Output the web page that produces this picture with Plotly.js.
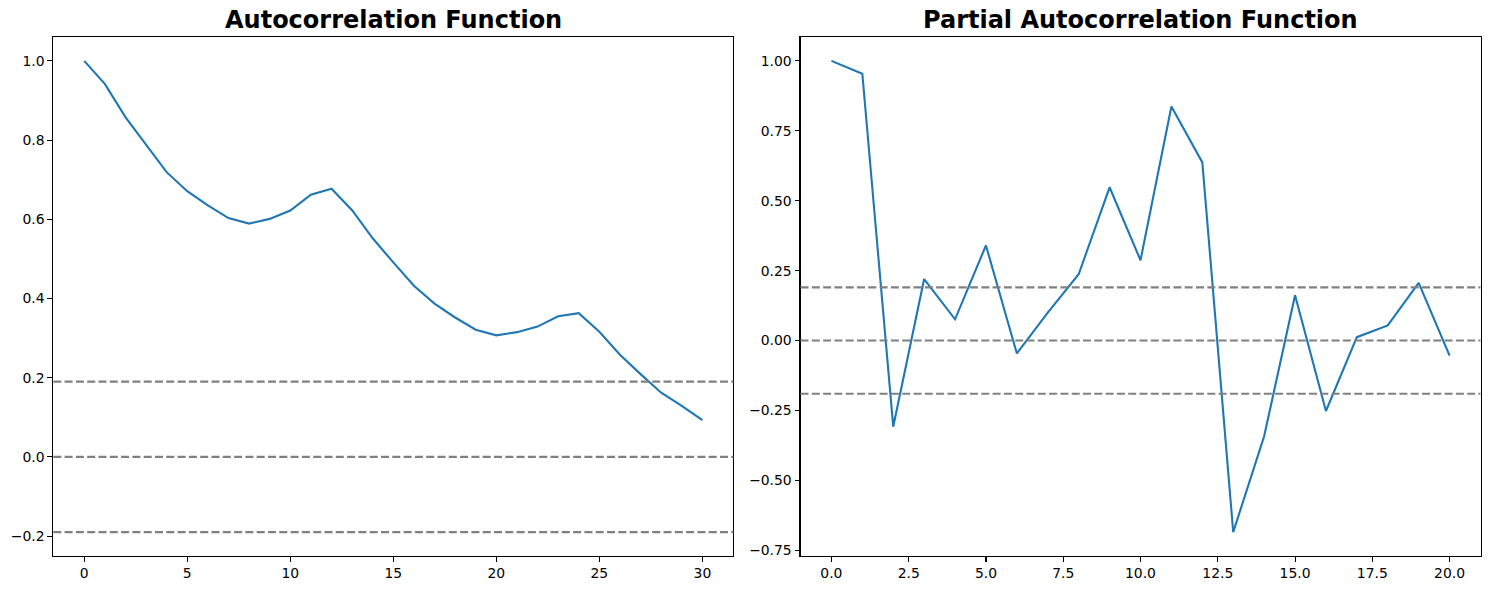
<!DOCTYPE html>
<html>
<head>
<meta charset="utf-8">
<script src="https://cdn.plot.ly/plotly-3.0.1.min.js"></script>
<style>html,body{margin:0;padding:0;background:#fff;}#chart{width:1490px;height:590px;}</style>
</head>
<body>
<div id="chart"></div>
<script>
// ---- data ----
const acfLags = [0,1,2,3,4,5,6,7,8,9,10,11,12,13,14,15,16,17,18,19,20,21,22,23,24,25,26,27,28,29,30];
const acfValues = [1.0,0.942,0.858,0.787,0.719,0.671,0.635,0.603,0.589,0.601,0.622,0.662,0.677,0.623,0.552,0.491,0.432,0.387,0.352,0.321,0.307,0.315,0.329,0.355,0.363,0.316,0.258,0.209,0.162,0.129,0.093];
const pacfLags = [0,1,2,3,4,5,6,7,8,9,10,11,12,13,14,15,16,17,18,19,20];
const pacfValues = [1.0,0.954,-0.308,0.220,0.076,0.340,-0.046,0.100,0.237,0.548,0.287,0.837,0.637,-0.685,-0.342,0.162,-0.252,0.012,0.054,0.206,-0.054];
const confBound = 0.19;
const refLevels = [confBound, 0, -confBound];
const titles = ["Autocorrelation Function", "Partial Autocorrelation Function"];
const acfXTicks = [0,5,10,15,20,25,30];
const acfYTicks = [-0.2,0.0,0.2,0.4,0.6,0.8,1.0];
const pacfXTicks = [0,2.5,5,7.5,10,12.5,15,17.5,20];
const pacfYTicks = [-0.75,-0.5,-0.25,0,0.25,0.5,0.75,1.0];

// ---- styling ----
const W = 1490, H = 590;
const blue = '#1f77b4';
const tickFont = {family: 'DejaVu Sans', size: 13.9, color: '#000'};
const dom1 = [53.3/W, 733.3/W], dom2 = [800.5/W, 1480.5/W];
const ydom = [1 - 555.7/H, 1 - 37.3/H];

function axisCommon(extra) {
  return Object.assign({
    showgrid: false, zeroline: false, showline: true, linecolor: '#000', linewidth: 1.1,
    mirror: true, ticks: 'outside', ticklen: 4.9, tickwidth: 1.1, tickcolor: '#000',
    tickfont: tickFont, automargin: false
  }, extra);
}

const traces = [
  {x: acfLags, y: acfValues, type: 'scatter', mode: 'lines', line: {color: blue, width: 2.1}, xaxis: 'x', yaxis: 'y', hoverinfo: 'skip'},
  {x: pacfLags, y: pacfValues, type: 'scatter', mode: 'lines', line: {color: blue, width: 2.1}, xaxis: 'x2', yaxis: 'y2', hoverinfo: 'skip'}
];

const shapes = [];
[['x','y'],['x2','y2']].forEach(([xa, ya]) => {
  refLevels.forEach(v => {
    shapes.push({type: 'line', xref: xa + ' domain', yref: ya, x0: 0, x1: 1, y0: v, y1: v,
      line: {color: '#808080', width: 2.1, dash: '8px,3.3px'}, layer: 'above'});
  });
});

function pad(lo, hi) { const s = (hi - lo) * 0.05; return [lo - s, hi + s]; }
const acfYMin = Math.min(...acfValues, -confBound), acfYMax = Math.max(...acfValues, confBound);
const pacfYMin = Math.min(...pacfValues, -confBound), pacfYMax = Math.max(...pacfValues, confBound);

const titleFont = {family: 'DejaVu Sans', size: 24, color: '#000'};
const layout = {
  width: W, height: H, margin: {l: 0, r: 0, t: 0, b: 0},
  paper_bgcolor: '#fff', plot_bgcolor: '#fff', showlegend: false,
  xaxis: axisCommon({domain: dom1, anchor: 'y', range: pad(acfLags[0], acfLags[acfLags.length-1]), tickvals: acfXTicks, tickformat: 'd'}),
  yaxis: axisCommon({domain: ydom, anchor: 'x', range: pad(acfYMin, acfYMax), tickvals: acfYTicks, tickformat: '.1f'}),
  xaxis2: axisCommon({domain: dom2, anchor: 'y2', range: pad(pacfLags[0], pacfLags[pacfLags.length-1]), tickvals: pacfXTicks, tickformat: '.1f'}),
  yaxis2: axisCommon({domain: ydom, anchor: 'x2', range: pad(pacfYMin, pacfYMax), tickvals: pacfYTicks, tickformat: '.2f'}),
  shapes: shapes,
  annotations: [
    {text: '<b>' + titles[0] + '</b>', xref: 'paper', yref: 'paper', x: (dom1[0]+dom1[1])/2, y: 1 - 20.5/H, xanchor: 'center', yanchor: 'middle', showarrow: false, font: titleFont},
    {text: '<b>' + titles[1] + '</b>', xref: 'paper', yref: 'paper', x: (dom2[0]+dom2[1])/2, y: 1 - 20.5/H, xanchor: 'center', yanchor: 'middle', showarrow: false, font: titleFont}
  ]
};

Plotly.newPlot('chart', traces, layout, {staticPlot: true, displayModeBar: false});
</script>
</body>
</html>
